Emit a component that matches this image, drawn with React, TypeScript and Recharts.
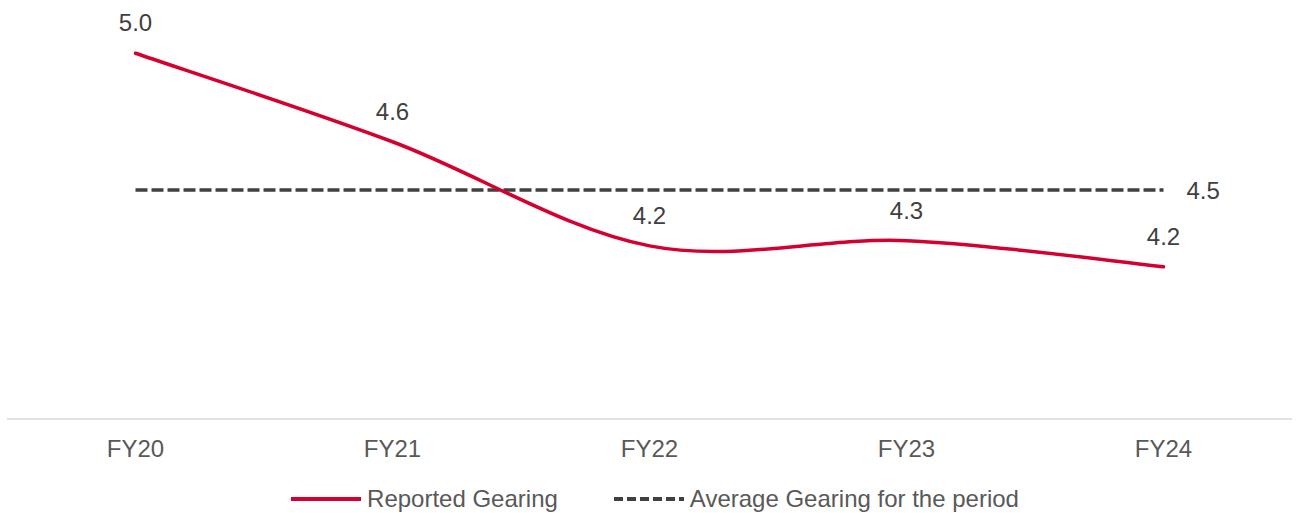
import React from 'react';
import { LineChart, Line, XAxis, YAxis, Legend, LabelList } from 'recharts';

const categories = ['FY20', 'FY21', 'FY22', 'FY23', 'FY24'];
const reportedGearing = [4.98, 4.64, 4.24, 4.26, 4.16];
const averageGearing = [4.455, 4.455, 4.455, 4.455, 4.455];
const seriesNames = ['Reported Gearing', 'Average Gearing for the period'];
const yDomain = [3.575, 5.1];

const FONT = '"Liberation Sans", Arial, Helvetica, sans-serif';
const RED = '#D5002F';
const DARK = '#404040';
const TEXT = '#595959';

const data = categories.map((c, i) => ({
  name: c,
  reported: reportedGearing[i],
  average: averageGearing[i],
}));

// Excel-style smoothed line (Catmull-Rom as cubic Bezier)
const excelSmooth = (context: any) => {
  let pts: number[][] = [];
  return {
    areaStart() {},
    areaEnd() {},
    lineStart() {
      pts = [];
    },
    point(x: number, y: number) {
      pts.push([+x, +y]);
    },
    lineEnd() {
      const n = pts.length;
      if (!n) return;
      context.moveTo(pts[0][0], pts[0][1]);
      for (let i = 0; i < n - 1; i++) {
        const p0 = pts[Math.max(i - 1, 0)];
        const p1 = pts[i];
        const p2 = pts[i + 1];
        const p3 = pts[Math.min(i + 2, n - 1)];
        context.bezierCurveTo(
          p1[0] + (p2[0] - p0[0]) / 6,
          p1[1] + (p2[1] - p0[1]) / 6,
          p2[0] - (p3[0] - p1[0]) / 6,
          p2[1] - (p3[1] - p1[1]) / 6,
          p2[0],
          p2[1]
        );
      }
    },
  };
};

const AvgLabel = (props: any) => {
  const { x, y, index, value } = props;
  if (index !== categories.length - 1) return null;
  return (
    <text x={x + 23} y={y + 9} fill={DARK} fontSize={24} fontFamily={FONT}>
      {Number(value).toFixed(1)}
    </text>
  );
};

const renderLegend = () => (
  <div
    style={{
      display: 'flex',
      justifyContent: 'center',
      alignItems: 'center',
      height: 28,
      paddingLeft: 11,
      fontFamily: FONT,
      fontSize: 24,
      color: TEXT,
      whiteSpace: 'nowrap',
    }}
  >
    <svg width={70} height={6} style={{ display: 'block' }}>
      <line x1={0} y1={3} x2={70} y2={3} stroke={RED} strokeWidth={4} />
    </svg>
    <span style={{ marginLeft: 6 }}>{seriesNames[0]}</span>
    <svg width={70} height={6} style={{ display: 'block', marginLeft: 56 }}>
      <line x1={0} y1={3} x2={70} y2={3} stroke={DARK} strokeWidth={4} strokeDasharray="9 4" />
    </svg>
    <span style={{ marginLeft: 6 }}>{seriesNames[1]}</span>
  </div>
);

export default function App() {
  return (
    <div style={{ position: 'absolute', left: 0, top: 0, width: 1299, height: 513, background: '#fff' }}>
      <LineChart
        width={1299}
        height={513}
        data={data}
        margin={{ top: 22, right: 7, bottom: 0, left: 7 }}
      >
        <XAxis
          dataKey="name"
          axisLine={{ stroke: '#D9D9D9', strokeWidth: 1.5 }}
          tickLine={false}
          tick={{ fill: TEXT, fontSize: 24, fontFamily: FONT }}
          tickMargin={15}
          height={66}
          interval={0}
          padding={{ left: 128.5, right: 128.5 }}
        />
        <YAxis hide domain={yDomain} />
        <Legend verticalAlign="bottom" height={28} content={renderLegend} />
        <Line
          dataKey="average"
          name={seriesNames[1]}
          type="linear"
          stroke={DARK}
          strokeWidth={3.5}
          strokeDasharray="12 4"
          dot={false}
          activeDot={false}
          isAnimationActive={false}
        >
          <LabelList dataKey="average" content={AvgLabel} />
        </Line>
        <Line
          dataKey="reported"
          name={seriesNames[0]}
          type={excelSmooth as any}
          stroke={RED}
          strokeWidth={3.5}
          strokeLinecap="round"
          dot={false}
          activeDot={false}
          isAnimationActive={false}
        >
          <LabelList
            dataKey="reported"
            position="top"
            offset={22}
            fill={DARK}
            fontSize={24}
            fontFamily={FONT}
            formatter={(v: any) => Number(v).toFixed(1)}
          />
        </Line>
      </LineChart>
    </div>
  );
}
